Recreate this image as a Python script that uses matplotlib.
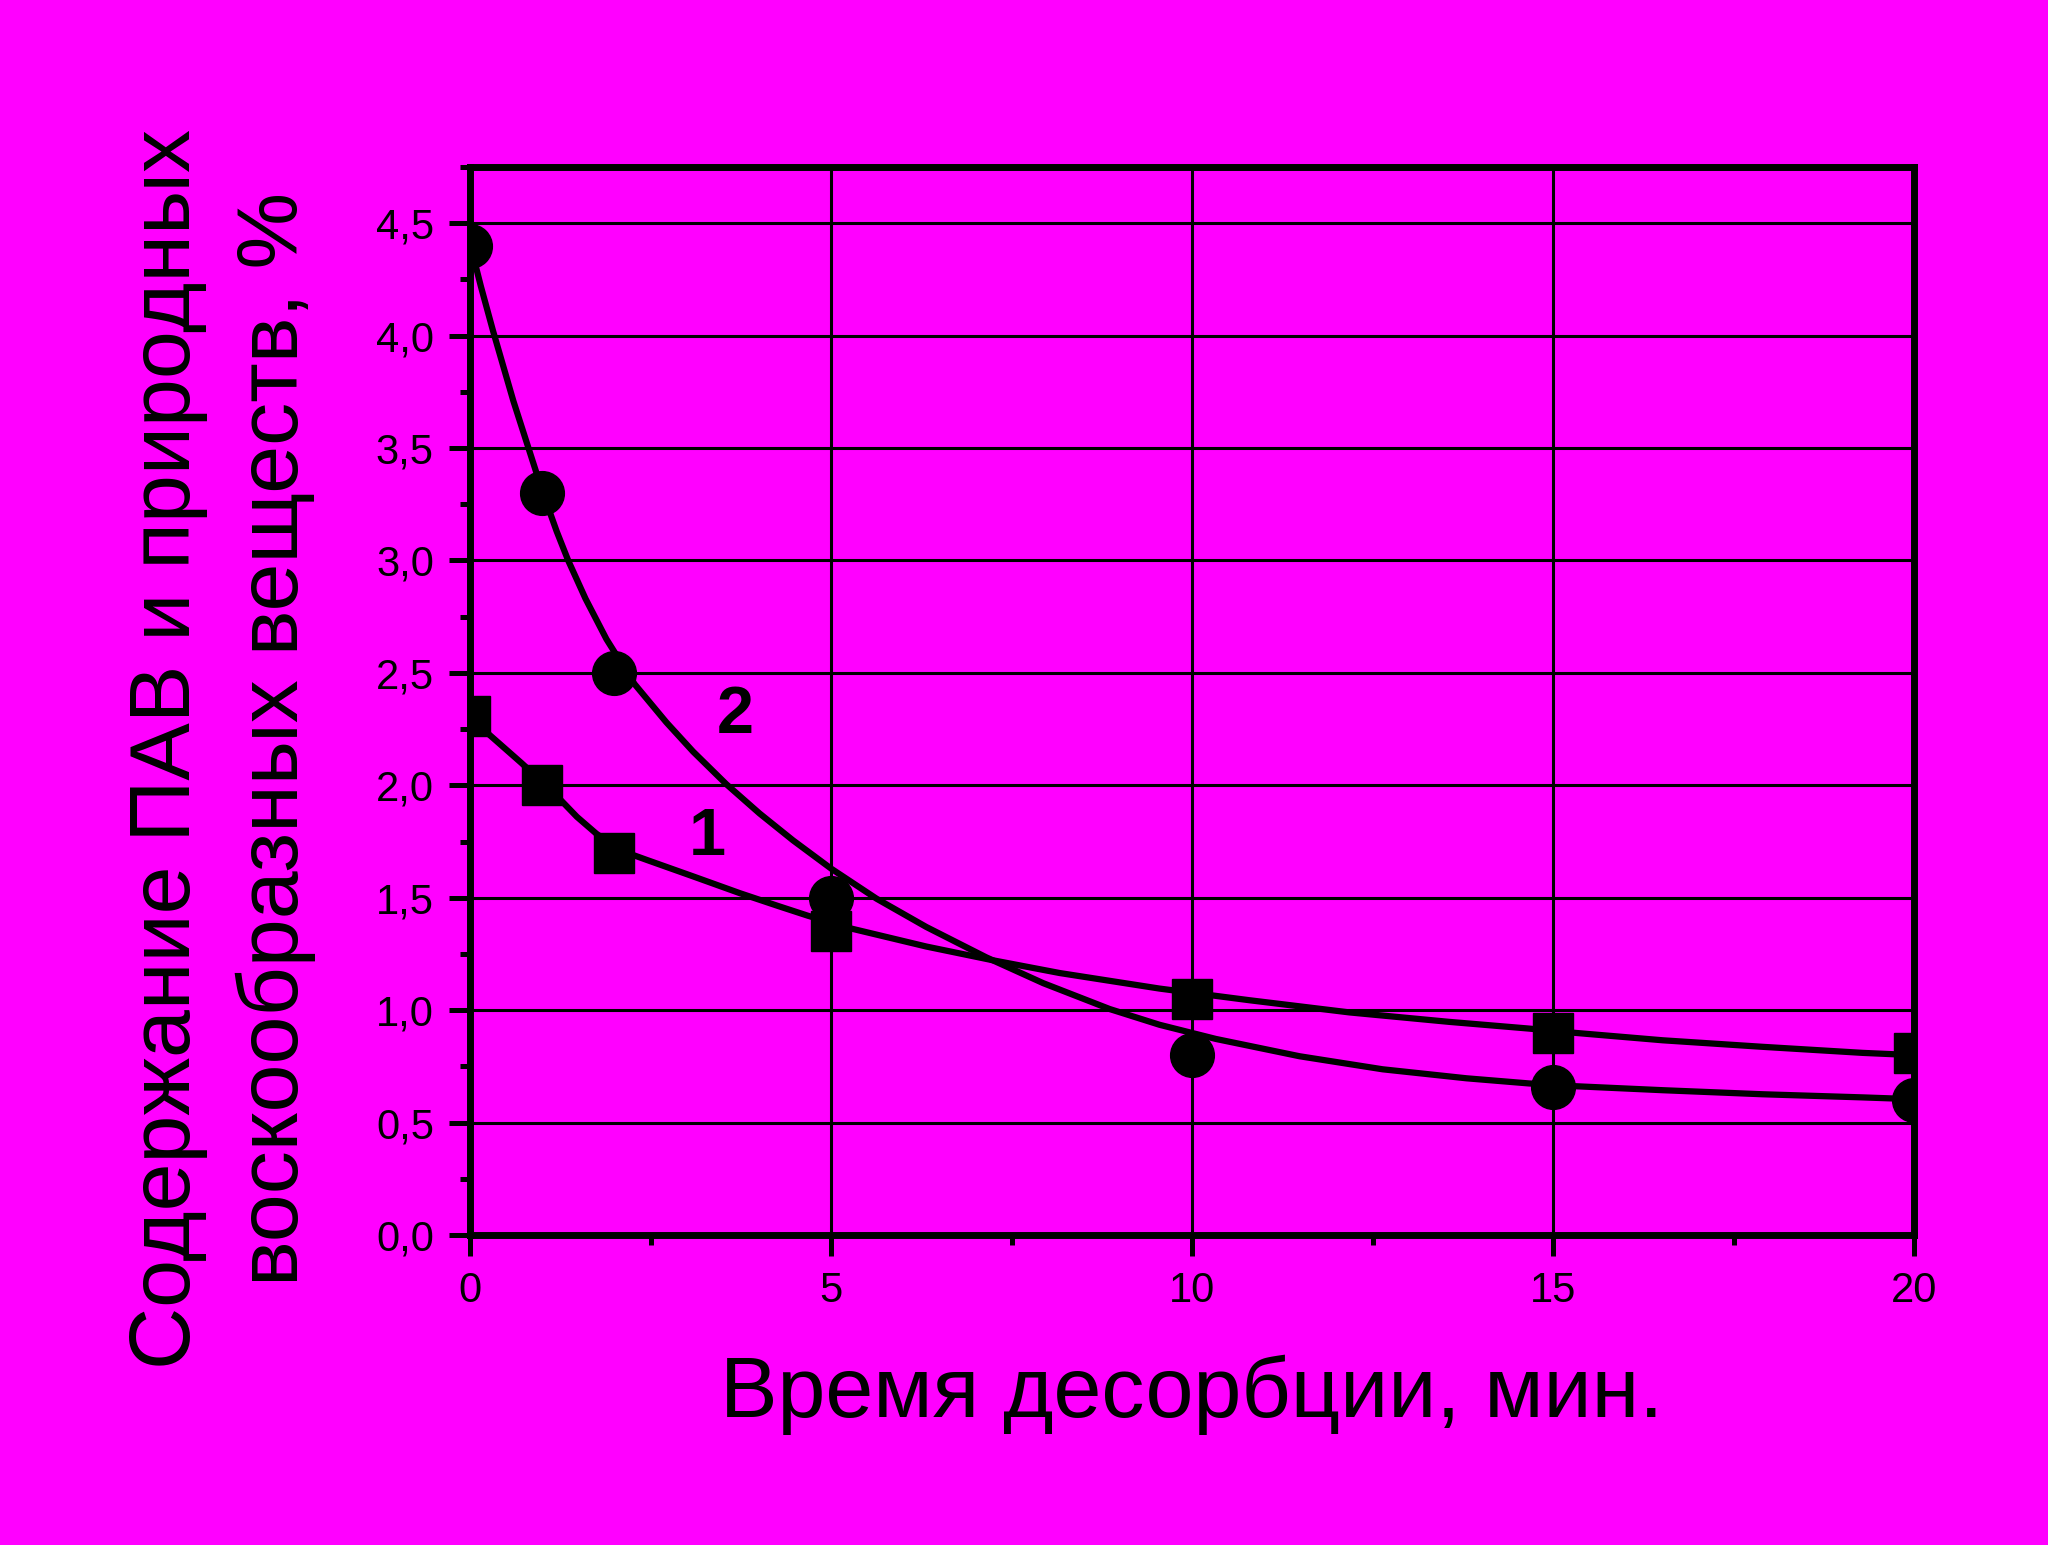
import matplotlib
matplotlib.use("Agg")
import matplotlib.pyplot as plt
from matplotlib.ticker import MultipleLocator, FuncFormatter

# ---- data ----
time_pts = [0, 1, 2, 5, 10, 15, 20]
series1 = [2.31, 2.0, 1.7, 1.35, 1.05, 0.9, 0.81]      # squares, curve 1
series2 = [4.4, 3.3, 2.5, 1.5, 0.8, 0.66, 0.6]          # circles, curve 2

fit1_x = [0, 0.25, 0.71, 1.0, 1.24, 1.48, 1.75, 2.0, 2.26, 2.45, 3.09, 3.74, 4.27,
          4.68, 5.28, 6.32, 7.24, 8.17, 9.55, 10.8, 12.18, 13.56, 14.67, 15.27,
          16.52, 17.9, 19.29, 20]
fit1_y = [2.31, 2.23, 2.10, 2.015, 1.94, 1.86, 1.785, 1.728, 1.69, 1.668, 1.595,
          1.52, 1.463, 1.42, 1.363, 1.283, 1.222, 1.165, 1.096, 1.044, 0.99, 0.948,
          0.918, 0.90, 0.866, 0.837, 0.81, 0.80]

fit2_x = [0, 0.15, 0.32, 0.6, 0.85, 1.0, 1.2, 1.36, 1.6, 1.89, 2.28, 2.72, 3.09,
          3.55, 4.01, 4.475, 5.0, 5.63, 6.32, 7.15, 7.94, 8.86, 9.55, 10.33, 11.49,
          12.64, 13.8, 14.67, 15.29, 16.52, 17.9, 19.29, 20]
fit2_y = [4.41, 4.22, 4.02, 3.71, 3.46, 3.31, 3.13, 3.00, 2.83, 2.65, 2.45, 2.28,
          2.15, 2.005, 1.875, 1.755, 1.63, 1.496, 1.37, 1.235, 1.12, 1.005, 0.935,
          0.872, 0.795, 0.737, 0.697, 0.674, 0.662, 0.644, 0.626, 0.612, 0.604]

x_ticks = [0, 5, 10, 15, 20]
y_ticks = [0.0, 0.5, 1.0, 1.5, 2.0, 2.5, 3.0, 3.5, 4.0, 4.5]

xlabel = "Время десорбции, мин."
ylabel_line1 = "Содержание ПАВ и природных"
ylabel_line2 = "воскообразных веществ, %"
curve_labels = ["1", "2"]
curve_label_pos = [(3.29, 1.688), (3.67, 2.231)]

# ---- style ----
plt.rcParams['font.family'] = ['Liberation Sans', 'DejaVu Sans']
BG = '#FF00FF'

fig = plt.figure(figsize=(20.48, 15.45), dpi=100, facecolor=BG)
ax = fig.add_axes([470/2048, 1 - 1235/1545, (1914-470)/2048, (1235-167)/1545])
ax.set_facecolor(BG)

ax.set_xlim(0, 20)
ax.set_ylim(0, 4.75)

ax.grid(True, which='major', color='black', linewidth=2.2)
ax.set_axisbelow(True)

ax.plot(fit1_x, fit1_y, color='black', lw=4.5, zorder=3, solid_joinstyle='round')
ax.plot(fit2_x, fit2_y, color='black', lw=4.5, zorder=3, solid_joinstyle='round')
ax.plot(time_pts, series1, linestyle='none', marker='s', markersize=29,
        color='black', zorder=4)
ax.plot(time_pts, series2, linestyle='none', marker='o', markersize=31.5,
        color='black', zorder=4)

for lab, (tx, ty) in zip(curve_labels, curve_label_pos):
    ax.text(tx, ty, lab, fontsize=48, fontweight='bold', ha='center',
            va='baseline', zorder=5)

ax.set_xticks(x_ticks)
ax.set_yticks(y_ticks)
ax.xaxis.set_minor_locator(MultipleLocator(2.5))
ax.yaxis.set_minor_locator(MultipleLocator(0.25))
ax.yaxis.set_major_formatter(FuncFormatter(lambda v, p: f"{v:.1f}".replace('.', ',')))
ax.xaxis.set_major_formatter(FuncFormatter(lambda v, p: f"{v:g}"))

ax.tick_params(axis='both', which='major', direction='out', length=15,
               width=3.6, labelsize=30, color='black')
ax.tick_params(axis='both', which='minor', direction='out', length=7,
               width=3.6, color='black')
ax.tick_params(axis='y', which='major', pad=11)
ax.tick_params(axis='x', which='major', pad=11)
ax.tick_params(top=False, right=False, which='both')

for s in ax.spines.values():
    s.set_linewidth(5)
    s.set_color('black')

fig.text(1192/2048, 1 - 1417/1545, xlabel, fontsize=62, ha='center', va='baseline')
fig.text(190/2048, 1 - 749/1545, ylabel_line1, fontsize=62, rotation=90,
         rotation_mode='anchor', ha='center', va='baseline')
fig.text(298/2048, 1 - 739/1545, ylabel_line2, fontsize=62, rotation=90,
         rotation_mode='anchor', ha='center', va='baseline')

fig.savefig('out.png', dpi=100, facecolor=BG)
